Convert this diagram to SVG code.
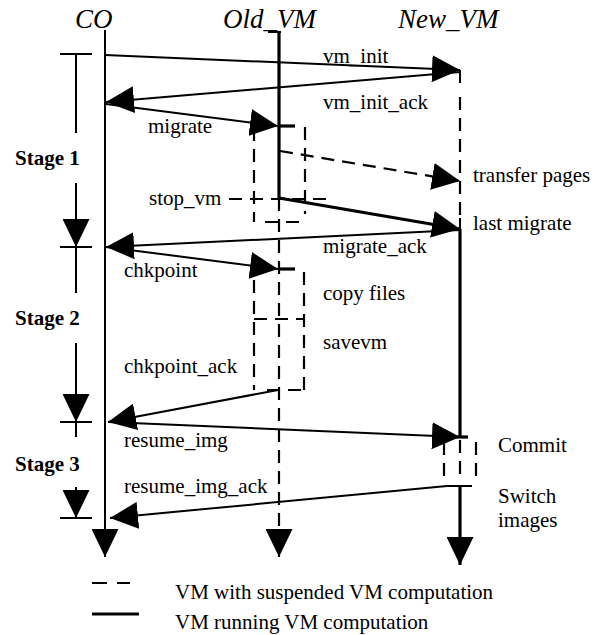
<svg xmlns="http://www.w3.org/2000/svg" width="603" height="635" viewBox="0 0 603 635">
  <style>
    .hdr { font-family: "Liberation Serif", "Times New Roman", serif; font-style: italic; font-size: 27px; fill: #000; }
    .lbl { font-family: "Liberation Serif", "Times New Roman", serif; font-size: 21px; fill: #000; }
    .stage { font-family: "Liberation Serif", "Times New Roman", serif; font-size: 21px; font-weight: bold; fill: #000; }
    .msg { stroke: #000; stroke-width: 2; fill: none; }
    .run { stroke: #000; stroke-width: 3.2; fill: none; }
    .susp { stroke: #000; stroke-width: 2.2; fill: none; stroke-dasharray: 13 8; }
    .thin { stroke: #000; stroke-width: 2; fill: none; }
  </style>
  <defs>
    <marker id="head" markerUnits="userSpaceOnUse" markerWidth="28" markerHeight="27" refX="28" refY="13.5" orient="auto">
      <path d="M0,0 L28,13.5 L0,27 Z" fill="#000"/>
    </marker>
  </defs>
  <rect width="603" height="635" fill="#fff"/>

  <!-- lifeline titles -->
  <text class="hdr" x="75" y="28">CO</text>
  <text class="hdr" x="223" y="28">Old_VM</text>
  <text class="hdr" x="398" y="28">New_VM</text>

  <!-- CO lifeline -->
  <g id="co">
    <line class="msg" x1="105" y1="30" x2="105" y2="557" marker-end="url(#head)"/>
  </g>

  <!-- Old_VM lifeline: running, then suspended -->
  <g id="old_vm">
    <line class="thin" x1="268" y1="32" x2="281" y2="32"/>
    <polyline class="run" points="279,32 279,198"/>
    <line class="susp" x1="279" y1="198" x2="279" y2="557" marker-end="url(#head)"/>
  </g>

  <!-- New_VM lifeline -->
  <g id="new_vm">
    <line class="thin" x1="460" y1="70" x2="460" y2="83"/>
    <line class="susp" x1="460" y1="97" x2="460" y2="216"/>
    <line class="thin" x1="460" y1="218" x2="460" y2="230"/>
    <line class="run" x1="460" y1="229" x2="460" y2="437"/>
    <line class="run" x1="453" y1="437" x2="468" y2="437"/>
    <line class="run" x1="460" y1="486" x2="460" y2="565" marker-end="url(#head)"/>
  </g>

  <!-- Commit / switch images block -->
  <g id="commit">
    <line class="susp" x1="444" y1="442" x2="444" y2="478" stroke-dasharray="14 7"/>
    <line class="susp" x1="460" y1="440" x2="460" y2="478" stroke-dasharray="16 7"/>
    <line class="susp" x1="476" y1="442" x2="476" y2="478" stroke-dasharray="14 7"/>
    <line class="thin" x1="447" y1="486" x2="472" y2="486"/>
    <text class="lbl" x="498" y="452">Commit</text>
    <text class="lbl" x="498" y="503">Switch</text>
    <text class="lbl" x="498" y="527">images</text>
  </g>

  <!-- migration box on Old_VM -->
  <g id="migrate_box">
    <line class="run" x1="278" y1="126" x2="295" y2="126"/>
    <line class="susp" x1="254" y1="128" x2="254" y2="222"/>
    <line class="susp" x1="305" y1="127" x2="305" y2="214"/>
    <line class="susp" x1="265" y1="222" x2="305" y2="222"/>
    <line class="susp" x1="229" y1="199" x2="330" y2="199"/>
    <text class="lbl" x="149" y="205">stop_vm</text>
  </g>

  <!-- checkpoint box on Old_VM -->
  <g id="chkpoint_box">
    <line class="run" x1="278" y1="269" x2="295" y2="269"/>
    <line class="susp" x1="304" y1="272" x2="304" y2="390"/>
    <line class="susp" x1="254" y1="280" x2="254" y2="390"/>
    <line class="susp" x1="254" y1="319" x2="304" y2="319"/>
    <line class="susp" x1="267" y1="390" x2="305" y2="390"/>
    <text class="lbl" x="323" y="300">copy files</text>
    <text class="lbl" x="323" y="349">savevm</text>
  </g>

  <!-- stage markers -->
  <g id="stages">
    <line class="thin" x1="60" y1="54" x2="92" y2="54"/>
    <line class="thin" x1="76" y1="54" x2="76" y2="133"/>
    <text class="stage" x="15" y="165">Stage 1</text>
    <line class="thin" x1="76" y1="183" x2="76" y2="247" marker-end="url(#head)"/>
    <line class="thin" x1="60" y1="247" x2="92" y2="247"/>
    <line class="thin" x1="76" y1="247" x2="76" y2="293"/>
    <text class="stage" x="15" y="325">Stage 2</text>
    <line class="thin" x1="76" y1="343" x2="76" y2="422" marker-end="url(#head)"/>
    <line class="thin" x1="60" y1="422" x2="92" y2="422"/>
    <line class="thin" x1="76" y1="422" x2="76" y2="437"/>
    <text class="stage" x="15" y="471">Stage 3</text>
    <line class="thin" x1="76" y1="487" x2="76" y2="518" marker-end="url(#head)"/>
    <line class="thin" x1="60" y1="518" x2="92" y2="518"/>
  </g>

  <!-- messages -->
  <g id="connectors">
    <line class="msg" x1="105" y1="55" x2="460" y2="70" marker-end="url(#head)"/>
    <line class="msg" x1="460" y1="72" x2="106" y2="102" marker-end="url(#head)"/>
    <line class="msg" x1="106" y1="104" x2="278" y2="126" marker-end="url(#head)"/>
    <line class="susp" x1="280" y1="151" x2="460" y2="181" marker-end="url(#head)"/>
    <line class="run" x1="279" y1="198" x2="460" y2="229" marker-end="url(#head)"/>
    <line class="msg" x1="460" y1="230" x2="106" y2="247" marker-end="url(#head)"/>
    <line class="msg" x1="106" y1="247" x2="278" y2="269" marker-end="url(#head)"/>
    <line class="msg" x1="278" y1="390" x2="108" y2="422" marker-end="url(#head)"/>
    <line class="msg" x1="108" y1="422" x2="460" y2="437" marker-end="url(#head)"/>
    <line class="msg" x1="447" y1="486" x2="110" y2="518" marker-end="url(#head)"/>
  </g>

  <!-- message labels -->
  <g id="labels">
    <text class="lbl" x="323" y="63">vm_init</text>
    <text class="lbl" x="323" y="109">vm_init_ack</text>
    <text class="lbl" x="148" y="133">migrate</text>
    <text class="lbl" x="473" y="182">transfer pages</text>
    <text class="lbl" x="473" y="230">last migrate</text>
    <text class="lbl" x="323" y="253">migrate_ack</text>
    <text class="lbl" x="124" y="277">chkpoint</text>
    <text class="lbl" x="124" y="373">chkpoint_ack</text>
    <text class="lbl" x="124" y="447">resume_img</text>
    <text class="lbl" x="124" y="493">resume_img_ack</text>
  </g>

  <!-- legend -->
  <g id="legend">
    <line class="thin" x1="92" y1="583" x2="130" y2="583" stroke-dasharray="15 10"/>
    <text class="lbl" x="175" y="599">VM with suspended VM computation</text>
    <line class="run" x1="92" y1="614" x2="139" y2="614" stroke-width="3.6"/>
    <text class="lbl" x="175" y="629">VM running VM computation</text>
  </g>
</svg>
